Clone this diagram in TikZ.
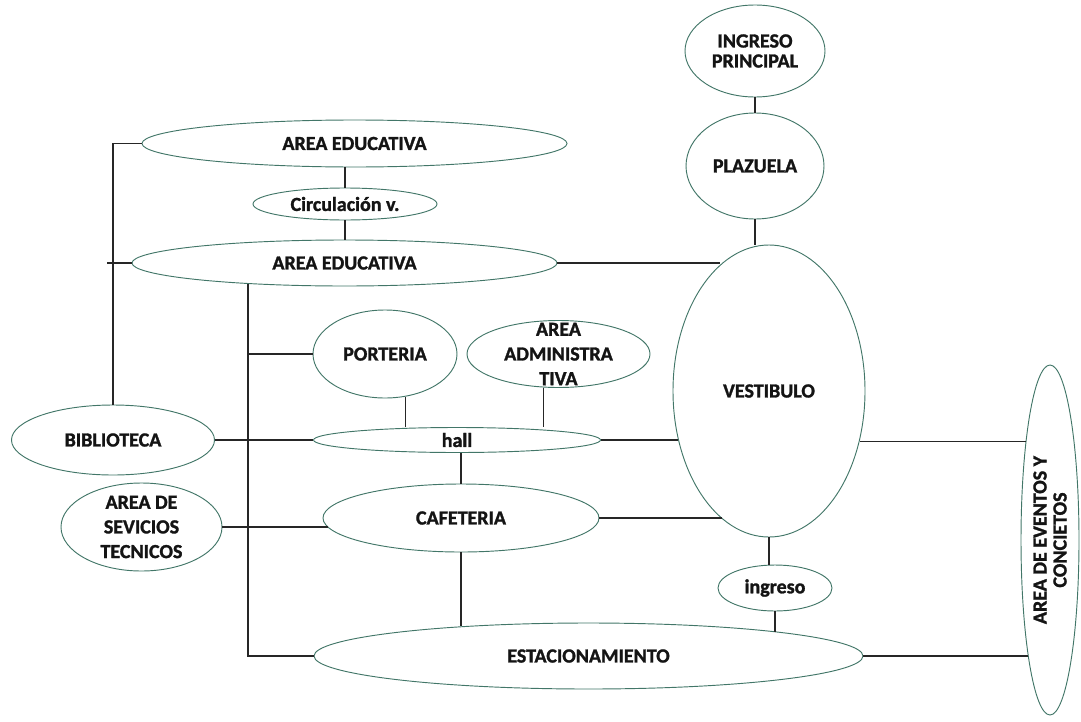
\documentclass[tikz,border=0pt]{standalone}
\usepackage{fontspec}
\setmainfont{Carlito}[BoldFeatures={FakeBold=1.4}]
\usetikzlibrary{shapes.geometric}

\definecolor{borde}{RGB}{66,118,104}
\definecolor{tinta}{RGB}{20,20,20}

\tikzset{
	zona/.style 2 args={ellipse, draw=borde, line width=0.7pt, inner sep=0pt,
		minimum width=#1*1.5pt, minimum height=#2*1.5pt},
	rotulo/.style={font=\fontsize{15}{18.5}\selectfont\bfseries, text=tinta, align=center, inner sep=0pt},
	junto/.style={font=\fontsize{15}{15}\selectfont\bfseries},
	via/.style={draw=black!85, line width=0.8pt}
}

\begin{document}
\begin{tikzpicture}[x=0.75pt, y=-0.75pt]
	\useasboundingbox (0,0) rectangle (1081,721);

	\node[zona={70}{46}, label={[rotulo, junto]center:INGRESO\\PRINCIPAL}] (ipri) at (755,51) {};
	\node[zona={69}{53}, label={[rotulo]center:PLAZUELA}] (plaz) at (755,166) {};
	\node[zona={212.5}{23.5}, label={[rotulo]center:AREA EDUCATIVA}] (ae1) at (354.5,143.5) {};
	\node[zona={92}{16}, label={[rotulo]center:Circulación v.}] (circ) at (345,204) {};
	\node[zona={212.5}{23}, label={[rotulo]center:AREA EDUCATIVA}] (ae2) at (344.5,263) {};
	\node[zona={72}{44}, label={[rotulo]center:PORTERIA}] (port) at (385,354) {};
	\node[zona={91.5}{33.5}, label={[rotulo]center:AREA\\ADMINISTRA\\TIVA}] (adm) at (558.5,354) {};
	\node[zona={96}{146}, label={[rotulo]center:VESTIBULO}] (vest) at (769,391) {};
	\node[zona={101.5}{35}, label={[rotulo]center:BIBLIOTECA}] (bib) at (113,440) {};
	\node[zona={143.5}{12.5}, label={[rotulo]center:hall}] (hall) at (457,440) {};
	\node[zona={80.5}{44}, label={[rotulo]center:AREA DE\\SEVICIOS\\TECNICOS}] (sev) at (141.5,527) {};
	\node[zona={138}{34}, label={[rotulo]center:CAFETERIA}] (caf) at (461,518) {};
	\node[zona={57}{23}, label={[rotulo]center:ingreso}] (ing) at (775,588) {};
	\node[zona={274.5}{33}, label={[rotulo]center:ESTACIONAMIENTO}] (est) at (588.5,656) {};
	\node[zona={29}{175}, label={[rotulo, junto, rotate=90]center:AREA DE EVENTOS Y\\CONCIETOS}] (ev) at (1050,540) {};

	\coordinate (tope) at (107,263);
	\coordinate (bus) at (248,283.5);

	\draw[via] (ipri) -- (plaz);
	\draw[via] (plaz.south) -- (plaz.south |- vest.north);
	\draw[via] (circ.north) -- (circ.north |- ae1.south);
	\draw[via] (circ.south) -- (circ.south |- ae2.north);
	\draw[via] (ae1.west) -| (bib.north);
	\draw[via] (ae2.west) -- (tope);
	\draw[via] (bus) |- (est.west);
	\draw[via] (bus |- port.west) -- (port.west);
	\draw[via] (ae2.east) -- (ae2.east -| vest.111);
	\draw[via] (bib.east) -- (hall.west);
	\draw[via] (port.-64) -- (port.-64 |- hall.north);
	\draw[via] (adm.246) -- (adm.246 |- hall.north);
	\draw[via] (hall.east) -- (hall.east -| vest.209);
	\draw[via] (caf.north) -- (caf.north |- hall.south);
	\draw[via] (sev.east) -- (sev.east -| caf.184);
	\draw[via] (caf.east) -- (caf.east -| vest.250);
	\draw[via] (caf.south) -- (caf.south |- est.167);
	\draw[via] (vest.south) -- (vest.south |- ing.north);
	\draw[via] (ing.south) -- (ing.south |- est.7);
	\draw[via] (vest.331) -- (vest.331 -| ev.257);
	\draw[via] (est.east) -- (est.east -| ev.259);
\end{tikzpicture}
\end{document}
